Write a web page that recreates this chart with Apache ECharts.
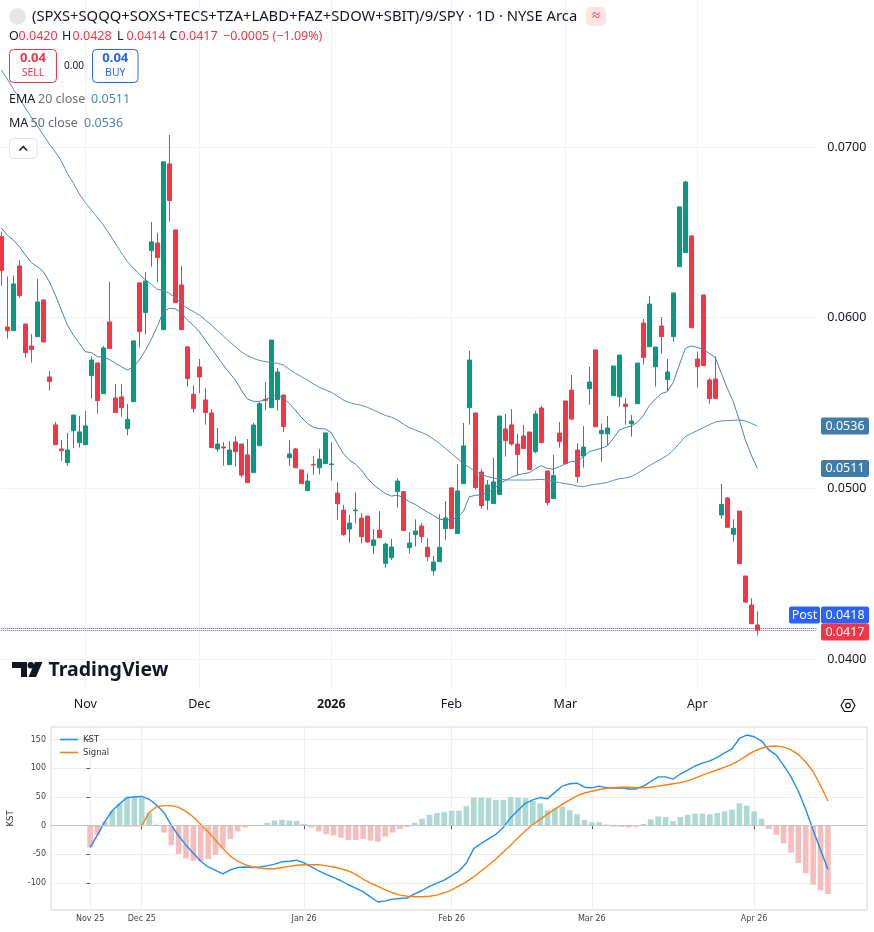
<!DOCTYPE html>
<html>
<head>
<meta charset="utf-8">
<script src="https://cdn.jsdelivr.net/npm/echarts@6.0.0/dist/echarts.min.js"></script>
<style>
  html, body { margin: 0; padding: 0; background: #fff; }
  #chart { width: 874px; height: 932px; }
</style>
</head>
<body>
<div id="chart"></div>
<script>
// trading days shown on the price pane
const dates = [
  '2025-10-14','2025-10-15','2025-10-16','2025-10-17','2025-10-20','2025-10-21','2025-10-22','2025-10-23','2025-10-24','2025-10-27','2025-10-28','2025-10-29','2025-10-30','2025-10-31',
  '2025-11-03','2025-11-04','2025-11-05','2025-11-06','2025-11-07','2025-11-10','2025-11-11','2025-11-12','2025-11-13','2025-11-14','2025-11-17','2025-11-18','2025-11-19','2025-11-20','2025-11-21','2025-11-24','2025-11-25','2025-11-26','2025-11-28',
  '2025-12-01','2025-12-02','2025-12-03','2025-12-04','2025-12-05','2025-12-08','2025-12-09','2025-12-10','2025-12-11','2025-12-12','2025-12-15','2025-12-16','2025-12-17','2025-12-18','2025-12-19','2025-12-22','2025-12-23','2025-12-24','2025-12-26','2025-12-29','2025-12-30','2025-12-31',
  '2026-01-02','2026-01-05','2026-01-06','2026-01-07','2026-01-08','2026-01-09','2026-01-12','2026-01-13','2026-01-14','2026-01-15','2026-01-16','2026-01-20','2026-01-21','2026-01-22','2026-01-23','2026-01-26','2026-01-27','2026-01-28','2026-01-29','2026-01-30',
  '2026-02-02','2026-02-03','2026-02-04','2026-02-05','2026-02-06','2026-02-09','2026-02-10','2026-02-11','2026-02-12','2026-02-13','2026-02-17','2026-02-18','2026-02-19','2026-02-20','2026-02-23','2026-02-24','2026-02-25','2026-02-26','2026-02-27',
  '2026-03-02','2026-03-03','2026-03-04','2026-03-05','2026-03-06','2026-03-09','2026-03-10','2026-03-11','2026-03-12','2026-03-13','2026-03-16','2026-03-17','2026-03-18','2026-03-19','2026-03-20','2026-03-23','2026-03-24','2026-03-25','2026-03-26','2026-03-27','2026-03-30','2026-03-31',
  '2026-04-01','2026-04-02','2026-04-06','2026-04-07','2026-04-08','2026-04-09','2026-04-10','2026-04-13','2026-04-14','2026-04-15','2026-04-16'
];

const candleOpen = [
  0.06475,0.05945,0.05924,0.06303,0.05963,0.05834,0.05889,0.06104,0.05653,0.05372,
  0.05231,0.05151,0.05338,0.05268,0.05256,0.05661,0.05735,0.05555,0.05975,0.05530,
  0.05536,0.05350,0.05508,0.06204,0.06030,0.06393,0.06438,0.05930,0.06901,0.06514,
  0.06192,0.05829,0.05551,0.05711,0.05518,0.05442,0.05231,0.05243,0.05139,0.05272,
  0.05260,0.05196,0.05092,0.05250,0.05522,0.05473,0.05520,0.05547,0.05180,0.05231,
  0.05108,0.04987,0.05141,0.05121,0.05145,0.05139,0.04973,0.04873,0.04762,0.04869,
  0.04826,0.04838,0.04666,0.04756,0.04561,0.04594,0.04981,0.04981,0.04653,0.04729,
  0.04780,0.04655,0.04518,0.04571,0.04764,0.05003,0.04735,0.05028,0.05473,0.05442,
  0.05096,0.04930,0.04911,0.04964,0.05348,0.05372,0.05260,0.05307,0.05330,0.05215,
  0.05471,0.05102,0.04940,0.05324,0.05512,0.05576,0.05225,0.05190,0.05584,0.05811,
  0.05320,0.05320,0.05543,0.05537,0.05494,0.05379,0.05496,0.05969,0.05830,0.05713,
  0.05951,0.05637,0.05889,0.06299,0.06381,0.06479,0.05758,0.06133,0.05635,0.05641,
  0.04844,0.04944,0.04731,0.04867,0.04487,0.04317,0.04200
];
const candleClose = [
  0.06276,0.05924,0.06198,0.06129,0.05795,0.05813,0.06092,0.05858,0.05626,0.05256,
  0.05221,0.05225,0.05430,0.05331,0.05366,0.05752,0.05514,0.05823,0.05819,0.05444,
  0.05473,0.05405,0.05864,0.05918,0.06215,0.06444,0.06352,0.06913,0.06686,0.06088,
  0.05930,0.05643,0.05467,0.05653,0.05444,0.05240,0.05260,0.05237,0.05225,0.05215,
  0.05078,0.05034,0.05371,0.05496,0.05516,0.05869,0.05682,0.05362,0.05202,0.05121,
  0.05028,0.05043,0.05137,0.05172,0.05325,0.05143,0.04910,0.04729,0.04797,0.04873,
  0.04717,0.04686,0.04698,0.04711,0.04674,0.04657,0.05043,0.04754,0.04680,0.04750,
  0.04718,0.04600,0.04569,0.04655,0.04827,0.04764,0.04985,0.05249,0.05752,0.05005,
  0.04899,0.05020,0.05038,0.05424,0.05280,0.05260,0.05198,0.05233,0.05110,0.05436,
  0.05268,0.04917,0.05075,0.05274,0.05145,0.05406,0.05069,0.05242,0.05623,0.05361,
  0.05340,0.05354,0.05717,0.05781,0.05479,0.05395,0.05734,0.05766,0.06080,0.05828,
  0.05889,0.05682,0.06145,0.06649,0.06795,0.05941,0.05713,0.05719,0.05526,0.05526,
  0.04906,0.04772,0.04766,0.04559,0.04334,0.04207,0.04170
];
const candleHigh = [
  0.06504,0.06241,0.06247,0.06338,0.05963,0.05905,0.06227,0.06104,0.05688,0.05389,
  0.05284,0.05325,0.05430,0.05424,0.05454,0.05774,0.05735,0.05834,0.06209,0.05612,
  0.05612,0.05495,0.05864,0.06204,0.06268,0.06561,0.06497,0.06913,0.07070,0.06514,
  0.06303,0.05834,0.05604,0.05758,0.05588,0.05465,0.05354,0.05272,0.05276,0.05307,
  0.05260,0.05289,0.05383,0.05508,0.05623,0.05869,0.05705,0.05547,0.05284,0.05237,
  0.05108,0.05088,0.05190,0.05231,0.05325,0.05270,0.05037,0.04903,0.04844,0.04977,
  0.04856,0.04838,0.04762,0.04867,0.04682,0.04704,0.05059,0.04985,0.04743,0.04819,
  0.04798,0.04708,0.04604,0.04848,0.04926,0.05003,0.05143,0.05383,0.05805,0.05442,
  0.05114,0.05049,0.05180,0.05424,0.05436,0.05465,0.05319,0.05372,0.05330,0.05455,
  0.05483,0.05102,0.05196,0.05389,0.05512,0.05664,0.05264,0.05365,0.05711,0.05811,
  0.05380,0.05424,0.05717,0.05781,0.05529,0.05430,0.05734,0.05992,0.06127,0.05828,
  0.06004,0.05758,0.06145,0.06649,0.06801,0.06479,0.05801,0.06133,0.05647,0.05774,
  0.05026,0.04949,0.04819,0.04867,0.04487,0.04356,0.04280
];
const candleLow = [
  0.06186,0.05877,0.05924,0.06118,0.05766,0.05737,0.05889,0.05854,0.05573,0.05256,
  0.05161,0.05133,0.05235,0.05239,0.05256,0.05526,0.05438,0.05555,0.05819,0.05444,
  0.05420,0.05311,0.05508,0.05825,0.05901,0.06299,0.06206,0.05930,0.06563,0.06088,
  0.05930,0.05596,0.05444,0.05557,0.05373,0.05240,0.05215,0.05133,0.05139,0.05127,
  0.05063,0.05034,0.05092,0.05250,0.05457,0.05473,0.05455,0.05332,0.05133,0.05121,
  0.05028,0.04987,0.05078,0.05082,0.05145,0.05045,0.04815,0.04723,0.04682,0.04795,
  0.04678,0.04682,0.04616,0.04711,0.04536,0.04581,0.04887,0.04752,0.04618,0.04659,
  0.04682,0.04573,0.04489,0.04571,0.04698,0.04764,0.04735,0.05028,0.05374,0.04993,
  0.04881,0.04874,0.04911,0.04964,0.05186,0.05250,0.05076,0.05233,0.05110,0.05205,
  0.05268,0.04901,0.04940,0.05239,0.05145,0.05401,0.05032,0.05121,0.05490,0.05361,
  0.05156,0.05254,0.05543,0.05479,0.05373,0.05303,0.05496,0.05725,0.05830,0.05596,
  0.05789,0.05570,0.05859,0.06299,0.06381,0.05941,0.05590,0.05719,0.05496,0.05526,
  0.04824,0.04772,0.04688,0.04559,0.04330,0.04207,0.04140
];
const ema20 = [
  0.06526,0.06483,0.06456,0.06416,0.06368,0.06323,0.06299,0.06270,0.06211,0.06133,
  0.06045,0.05958,0.05899,0.05850,0.05801,0.05795,0.05772,0.05768,0.05756,0.05733,
  0.05713,0.05694,0.05709,0.05752,0.05807,0.05874,0.05948,0.06036,0.06055,0.06051,
  0.06030,0.05987,0.05955,0.05918,0.05869,0.05820,0.05772,0.05723,0.05678,0.05635,
  0.05577,0.05524,0.05510,0.05510,0.05518,0.05538,0.05547,0.05528,0.05498,0.05459,
  0.05416,0.05381,0.05358,0.05350,0.05348,0.05326,0.05264,0.05205,0.05166,0.05143,
  0.05108,0.05059,0.05024,0.04995,0.04970,0.04955,0.04960,0.04947,0.04922,0.04906,
  0.04883,0.04862,0.04842,0.04820,0.04815,0.04817,0.04830,0.04864,0.04951,0.04959,
  0.04963,0.04975,0.04994,0.05030,0.05045,0.05065,0.05078,0.05086,0.05092,0.05115,
  0.05133,0.05117,0.05112,0.05127,0.05143,0.05159,0.05155,0.05186,0.05215,0.05225,
  0.05235,0.05248,0.05293,0.05342,0.05356,0.05365,0.05387,0.05426,0.05485,0.05524,
  0.05555,0.05567,0.05621,0.05723,0.05820,0.05834,0.05826,0.05813,0.05791,0.05766,
  0.05674,0.05586,0.05508,0.05401,0.05284,0.05195,0.05117
];
const ma50 = [
  0.07451,0.07398,0.07340,0.07287,0.07228,0.07176,0.07123,0.07070,0.07018,0.06971,
  0.06918,0.06846,0.06788,0.06725,0.06674,0.06631,0.06588,0.06543,0.06491,0.06436,
  0.06381,0.06329,0.06290,0.06256,0.06221,0.06196,0.06166,0.06159,0.06143,0.06118,
  0.06084,0.06055,0.06036,0.06016,0.05987,0.05957,0.05924,0.05893,0.05860,0.05831,
  0.05801,0.05778,0.05762,0.05750,0.05742,0.05737,0.05733,0.05723,0.05698,0.05674,
  0.05655,0.05635,0.05612,0.05592,0.05577,0.05563,0.05541,0.05518,0.05502,0.05494,
  0.05487,0.05475,0.05459,0.05444,0.05427,0.05418,0.05401,0.05377,0.05356,0.05342,
  0.05328,0.05313,0.05289,0.05264,0.05235,0.05205,0.05176,0.05147,0.05123,0.05102,
  0.05082,0.05069,0.05061,0.05053,0.05051,0.05049,0.05049,0.05049,0.05049,0.05051,
  0.05053,0.05049,0.05041,0.05034,0.05028,0.05022,0.05014,0.05010,0.05018,0.05024,
  0.05029,0.05035,0.05047,0.05057,0.05061,0.05069,0.05088,0.05110,0.05133,0.05153,
  0.05172,0.05194,0.05223,0.05264,0.05303,0.05322,0.05338,0.05356,0.05373,0.05389,
  0.05395,0.05397,0.05399,0.05401,0.05395,0.05381,0.05365
];
const monthLabelIdx = [14, 33, 55, 75, 94, 116];
const monthLabels = ['Nov', 'Dec', '2026', 'Feb', 'Mar', 'Apr'];
const priceTicks = [0.04, 0.05, 0.06, 0.07];

// KST panel (index = trading day since first point)
const kst = [
  -38,-16,7,26,38,49,50,51,46,36,
  23,1,-18,-34,-48,-62,-72,-78,-84,-77,
  -73,-72,-73,-72,-70,-67,-63,-62,-60,-65,
  -72,-79,-85,-90,-96,-103,-109,-115,-124,-133,
  -131,-128,-127,-126,-119,-113,-106,-100,-95,-87,
  -79,-65,-40,-31,-23,-15,-3,14,27,39,
  45,49,47,58,69,73,74,67,66,69,
  66,65,66,64,64,69,77,85,85,81,
  90,97,104,109,113,119,127,134,152,158,
  155,148,132,123,105,85,60,28,-8,-42,
  -76
];
const signal = [
  0,0,0,0,0,0,0,0,23,33,
  35,35,32,25,15,2,-11,-25,-40,-53,
  -62,-68,-72,-74,-75,-75,-73,-71,-69,-68,
  -68,-68,-70,-72,-75,-79,-85,-93,-100,-106,
  -112,-117,-121,-123,-124,-124,-123,-121,-117,-112,
  -105,-98,-89,-79,-69,-58,-46,-34,-21,-9,
  2,11,20,29,37,45,52,57,60,63,
  65,66,67,67,66,66,67,69,71,73,
  75,78,83,88,93,97,102,107,114,122,
  130,135,138,139,137,132,124,111,94,70,
  43
];
const kstHist = [
  -38,-16,7,26,38,49,49,49,23,2,
  -12,-34,-49,-57,-61,-62,-58,-51,-40,-23,
  -10,-3,-1,1,5,9,10,9,8,3,
  -3,-10,-15,-17,-21,-25,-25,-23,-26,-28,
  -19,-12,-6,-2,5,12,19,22,24,26,
  26,34,49,49,48,45,45,50,49,48,
  43,39,27,30,33,27,20,10,6,6,
  2,-2,-2,-3,-2,3,11,16,15,8,
  15,19,21,21,20,22,25,28,39,35,
  25,12,-6,-16,-31,-47,-65,-83,-103,-113,
  -119
];
const kstTickIdx = [0, 7, 29, 49, 68, 90];
const kstTickLabels = ['Nov 25', 'Dec 25', 'Jan 26', 'Feb 26', 'Mar 26', 'Apr 26'];
const kstYTicks = [-100, -50, 0, 50, 100, 150];

const UP = '#089981', DOWN = '#f23645', TXT = '#131722';
const TV_FONT = 'Noto Sans', MPL_FONT = 'DejaVu Sans';

const chart = echarts.init(document.getElementById('chart'), null, { renderer: 'canvas' });

const candles = dates.map((d, i) => [candleOpen[i], candleClose[i], candleLow[i], candleHigh[i]]);

chart.setOption({
  animation: false,
  backgroundColor: '#fff',
  textStyle: { fontFamily: TV_FONT },
  legend: {
    data: ['KST', 'Signal'],
    left: 55, top: 730, orient: 'vertical',
    icon: 'rect', itemWidth: 18, itemHeight: 1.6, itemGap: 4,
    textStyle: { fontFamily: MPL_FONT, fontSize: 8.5, color: '#333' }
  },
  grid: [
    { left: 1.3, top: 0, width: 816, height: 690, containLabel: false, outerBoundsMode: 'none' },
    { left: 51, top: 727, width: 816, height: 183, show: true, borderColor: '#d4d4d4', borderWidth: 1,
      containLabel: false, outerBoundsMode: 'none' }
  ],
  xAxis: [
    {
      type: 'category', gridIndex: 0, data: dates, boundaryGap: false, max: 136,
      axisLine: { show: false }, axisTick: { show: false },
      axisLabel: {
        interval: (i) => monthLabelIdx.includes(i),
        formatter: (v, i) => {
          const j = monthLabelIdx.indexOf(i);
          if (j < 0) return '';
          return monthLabels[j] === '2026' ? '{b|2026}' : monthLabels[j];
        },
        color: TXT, fontSize: 12.5, margin: 8,
        rich: { b: { fontWeight: 'bold', fontSize: 12.5, color: TXT, fontFamily: TV_FONT } }
      },
      splitLine: { show: true, interval: (i) => monthLabelIdx.includes(i), lineStyle: { color: '#f0f3fa' } }
    },
    {
      type: 'value', gridIndex: 1, min: -5.3, max: 105.3,
      axisLine: { show: false },
      axisTick: { show: true, customValues: kstTickIdx, length: 3.5, lineStyle: { color: '#555' } },
      axisLabel: {
        customValues: kstTickIdx,
        formatter: (v) => kstTickLabels[kstTickIdx.indexOf(v)] || '',
        fontFamily: MPL_FONT, fontSize: 8, color: '#444', margin: 5
      },
      splitLine: { show: true, lineStyle: { color: '#eeeeee' } }
    }
  ],
  yAxis: [
    {
      type: 'value', gridIndex: 0, position: 'right', min: 0.03819, max: 0.07861,
      axisLine: { show: false },
      axisTick: { show: false, customValues: priceTicks },
      axisLabel: {
        customValues: priceTicks, formatter: (v) => v.toFixed(4),
        color: TXT, fontSize: 12.5, margin: 10
      },
      splitLine: { show: true, lineStyle: { color: '#f0f3fa' } }
    },
    {
      type: 'value', gridIndex: 1, min: -147, max: 172,
      axisLine: { show: false },
      axisTick: { show: true, customValues: kstYTicks, length: 3.5, lineStyle: { color: '#555' } },
      axisLabel: { customValues: kstYTicks, fontFamily: MPL_FONT, fontSize: 8, color: '#444', margin: 5 },
      splitLine: { show: true, lineStyle: { color: '#eeeeee' } },
      name: 'KST', nameLocation: 'middle', nameGap: 36, nameRotate: 90,
      nameTextStyle: { fontFamily: MPL_FONT, fontSize: 8.5, color: '#333' }
    }
  ],
  series: [
    {
      name: 'Price', type: 'candlestick', xAxisIndex: 0, yAxisIndex: 0,
      data: candles, barWidth: 4.5, clip: false,
      itemStyle: { color: UP, color0: DOWN, borderColor: UP, borderColor0: DOWN, borderWidth: 1 },
      markLine: {
        silent: true, symbol: ['none', 'none'], label: { show: false }, precision: 6,
        lineStyle: { type: 'dotted', width: 1 },
        data: [
          { yAxis: 0.0418, lineStyle: { color: '#2962ff', type: 'dotted', width: 1 } },
          { yAxis: 0.0417, lineStyle: { color: DOWN, type: 'dotted', width: 1 } }
        ]
      }
    },
    {
      name: 'EMA 20', type: 'line', xAxisIndex: 0, yAxisIndex: 0, data: ema20,
      showSymbol: false, symbol: 'none', lineStyle: { color: '#4a80b2', width: 1 }, z: 3
    },
    {
      name: 'MA 50', type: 'line', xAxisIndex: 0, yAxisIndex: 0, data: ma50,
      showSymbol: false, symbol: 'none', lineStyle: { color: '#5a8ebd', width: 1 }, z: 3
    },
    {
      name: 'Hist', type: 'bar', xAxisIndex: 1, yAxisIndex: 1,
      data: kstHist.map((v, i) => [i, v]), barWidth: 5.6,
      itemStyle: { color: (p) => (p.value[1] >= 0 ? '#acd9d2' : '#f7bdbd') },
      markLine: {
        silent: true, symbol: ['none', 'none'], label: { show: false },
        lineStyle: { color: '#c4c4c4', type: 'solid', width: 1 },
        data: [{ yAxis: 0 }]
      }
    },
    {
      name: 'KST', type: 'line', xAxisIndex: 1, yAxisIndex: 1,
      data: kst.map((v, i) => [i, v]), showSymbol: false, symbol: 'none',
      color: '#1e8ff0', lineStyle: { color: '#1e8ff0', width: 1.4 }, z: 4
    },
    {
      name: 'Signal', type: 'line', xAxisIndex: 1, yAxisIndex: 1,
      data: signal.map((v, i) => [i, v]), showSymbol: false, symbol: 'none',
      color: '#ff7f0e', lineStyle: { color: '#ff7f0e', width: 1.4 }, z: 4
    }
  ]
});

// overlays: header, legend values, price badges, logo
const yOf = (v) => chart.convertToPixel({ yAxisIndex: 0 }, v);
const txt = (x, y, text, fill, size, extra) => ({
  type: 'text', x, y, silent: true, z: 50,
  style: Object.assign({ text, fill, fontSize: size, fontFamily: TV_FONT, verticalAlign: 'middle' }, extra || {})
});
const badge = (x, w, cy, text, fill) => [
  { type: 'rect', silent: true, z: 50, shape: { x, y: cy - 8.5, width: w, height: 17, r: 2 }, style: { fill } },
  txt(x + w / 2, cy, text, '#fff', 12.5, { align: 'center' })
];

const title = '(SPXS+SQQQ+SOXS+TECS+TZA+LABD+FAZ+SDOW+SBIT)/9/SPY \u00b7 1D \u00b7 NYSE Arca';
const maY = yOf(0.05365), emaY = yOf(0.05117), lastY = yOf(0.0417);

const graphics = [
  { type: 'circle', silent: true, z: 50, shape: { cx: 17.5, cy: 16.5, r: 8.3 }, style: { fill: '#e6e6e6' } },
  txt(32, 16.5, title, TXT, 14.8),
  { type: 'rect', silent: true, z: 50, shape: { x: 586, y: 7, width: 20, height: 19, r: 5 }, style: { fill: '#fde3e6' } },
  txt(596, 16, '\u2248', DOWN, 15, { align: 'center' }),

  txt(9, 36.5, 'O', TXT, 12.5), txt(18.5, 36.5, '0.0420', DOWN, 12.5),
  txt(62, 36.5, 'H', TXT, 12.5), txt(72.5, 36.5, '0.0428', DOWN, 12.5),
  txt(117, 36.5, 'L', TXT, 12.5), txt(126.5, 36.5, '0.0414', DOWN, 12.5),
  txt(169.5, 36.5, 'C', TXT, 12.5), txt(178.5, 36.5, '0.0417', DOWN, 12.5),
  txt(223, 36.5, '\u22120.0005 (\u22121.09%)', DOWN, 12.5),

  { type: 'rect', silent: true, z: 50, shape: { x: 9.5, y: 49.5, width: 47, height: 33, r: 4 },
    style: { fill: '#fff', stroke: DOWN, lineWidth: 1 } },
  txt(33, 58.5, '0.04', DOWN, 13, { align: 'center', fontWeight: 'bold' }),
  txt(33, 73.5, 'SELL', DOWN, 10.5, { align: 'center' }),
  txt(74, 66, '0.00', TXT, 10, { align: 'center' }),
  { type: 'rect', silent: true, z: 50, shape: { x: 92.5, y: 49.5, width: 45.5, height: 33, r: 4 },
    style: { fill: '#fff', stroke: '#2962ff', lineWidth: 1 } },
  txt(115.3, 58.5, '0.04', '#2962ff', 13, { align: 'center', fontWeight: 'bold' }),
  txt(115.3, 73.5, 'BUY', '#2962ff', 10.5, { align: 'center' }),

  txt(9, 99.5, 'EMA', TXT, 12.5), txt(38, 99.5, '20 close', '#6a6d78', 12.5), txt(91, 99.5, '0.0511', '#4a86b8', 12.5),
  txt(9, 123.7, 'MA', TXT, 12.5), txt(30.5, 123.7, '50 close', '#6a6d78', 12.5), txt(84, 123.7, '0.0536', '#4a86b8', 12.5),

  { type: 'rect', silent: true, z: 50, shape: { x: 9.5, y: 138.5, width: 27.5, height: 20, r: 4 },
    style: { fill: '#fff', stroke: '#e0e3eb', lineWidth: 1 } },
  { type: 'polyline', silent: true, z: 51, shape: { points: [[19.5, 150.5], [23.3, 146.5], [27, 150.5]] },
    style: { stroke: TXT, lineWidth: 1.5, fill: null } },

  // TradingView logo
  { type: 'rect', silent: true, z: 50, shape: { x: 12, y: 662, width: 15, height: 6 }, style: { fill: TXT } },
  { type: 'rect', silent: true, z: 50, shape: { x: 21, y: 662, width: 6, height: 15 }, style: { fill: TXT } },
  { type: 'circle', silent: true, z: 50, shape: { cx: 30.8, cy: 665.2, r: 3.2 }, style: { fill: TXT } },
  { type: 'polygon', silent: true, z: 50, shape: { points: [[35, 662], [42.5, 662], [36, 677], [28.5, 677]] }, style: { fill: TXT } },
  txt(48.5, 670, 'TradingView', TXT, 19.5, { fontWeight: 'bold' }),

  // settings icon
  { type: 'polygon', silent: true, z: 50,
    shape: { points: [[841, 705.5], [844.5, 699.5], [851.5, 699.5], [855, 705.5], [851.5, 711.5], [844.5, 711.5]] },
    style: { fill: null, stroke: TXT, lineWidth: 1.2 } },
  { type: 'circle', silent: true, z: 50, shape: { cx: 848, cy: 705.5, r: 2.3 }, style: { fill: null, stroke: TXT, lineWidth: 1.2 } }
]
  .concat(badge(821, 48, maY, '0.0536', '#3f7ca8'))
  .concat(badge(821, 48, emaY, '0.0511', '#3f7ca8'))
  .concat(badge(789, 31, lastY - 15, 'Post', '#2962ff'))
  .concat(badge(821, 48, lastY - 15, '0.0418', '#2962ff'))
  .concat(badge(821, 48, lastY + 2, '0.0417', DOWN));

chart.setOption({ graphic: graphics });
</script>
</body>
</html>
